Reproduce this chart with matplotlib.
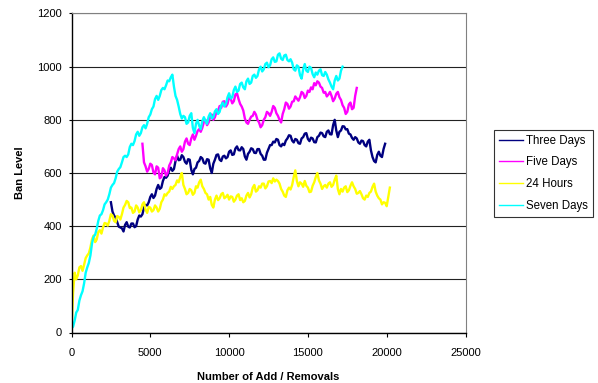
import numpy as np
import matplotlib
matplotlib.use("Agg")
import matplotlib.pyplot as plt

plt.rcParams['font.family'] = ['Liberation Sans', 'DejaVu Sans']

# ban level sampled every 100 add/removals
step = 100

three_days_start = 2500
three_days = [490, 455, 440, 432, 415, 398, 395, 392, 380, 405, 415, 398, 395, 410, 410, 396,
              400, 425, 440, 436, 445, 470, 480, 478, 490, 510, 520, 506, 515, 540, 555, 540,
              545, 570, 585, 582, 590, 610, 620, 608, 615, 645, 665, 648, 650, 667, 660, 642,
              635, 652, 650, 612, 595, 615, 620, 640, 645, 660, 655, 638, 635, 652, 650, 618,
              600, 635, 650, 668, 670, 650, 645, 662, 665, 655, 660, 680, 685, 668, 670, 692,
              700, 686, 685, 697, 690, 662, 650, 672, 680, 693, 690, 676, 675, 690, 690, 672,
              665, 650, 650, 676, 690, 705, 705, 718, 715, 728, 725, 705, 700, 710, 705, 722,
              730, 742, 740, 722, 715, 728, 725, 712, 710, 730, 735, 748, 750, 728, 720, 733,
              730, 716, 715, 735, 740, 752, 750, 738, 735, 755, 760, 746, 745, 780, 800, 760,
              735, 755, 760, 776, 775, 764, 765, 748, 745, 732, 725, 735, 730, 715, 710, 722,
              720, 705, 700, 718, 725, 685, 660, 645, 640, 668, 680, 665, 660, 690, 710]

five_days_start = 4500
five_days = [710, 640, 625, 605, 615, 635, 630, 602, 595, 625, 620, 580, 585, 618, 610, 590,
             600, 628, 640, 660, 655, 648, 670, 690, 700, 680, 690, 718, 730, 710, 705, 730,
             745, 725, 740, 758, 765, 755, 770, 792, 800, 780, 790, 812, 820, 800, 810, 830,
             835, 852, 845, 868, 870, 850, 860, 885, 880, 862, 870, 895, 900, 878, 860, 850,
             835, 805, 790, 785, 800, 812, 815, 830, 820, 800, 790, 772, 780, 800, 810, 830,
             825, 815, 830, 852, 845, 825, 815, 800, 790, 822, 840, 865, 860, 842, 850, 868,
             870, 888, 880, 872, 885, 905, 900, 882, 890, 910, 905, 922, 915, 938, 930, 945,
             940, 925, 920, 902, 905, 888, 895, 905, 890, 870, 880, 898, 905, 885, 875, 855,
             845, 822, 830, 858, 865, 840, 845, 890, 920]

hours_24_start = 0
hours_24 = [10, 150, 225, 200, 215, 245, 250, 232, 255, 280, 290, 298, 320, 350, 365, 340,
            350, 378, 385, 372, 395, 412, 410, 402, 420, 445, 440, 420, 415, 438, 435, 425,
            445, 470, 480, 495, 490, 468, 470, 450, 455, 478, 470, 452, 460, 482, 490, 462,
            450, 472, 470, 455, 460, 478, 470, 455, 465, 490, 500, 520, 515, 525, 530, 548,
            540, 550, 555, 572, 565, 585, 600, 555, 540, 520, 525, 540, 535, 518, 525, 550,
            545, 565, 575, 550, 540, 525, 520, 500, 510, 480, 470, 500, 515, 498, 505, 520,
            525, 505, 510, 518, 500, 512, 510, 492, 500, 515, 520, 498, 505, 490, 495, 515,
            525, 508, 520, 545, 555, 530, 535, 550, 545, 560, 560, 542, 550, 568, 570, 562,
            580, 568, 575, 570, 560, 540, 530, 515, 510, 535, 545, 538, 555, 585, 610, 570,
            550, 565, 560, 548, 570, 552, 545, 528, 530, 552, 565, 585, 600, 572, 560, 540,
            550, 555, 545, 560, 565, 548, 555, 575, 590, 540, 520, 540, 530, 545, 550, 528,
            535, 552, 565, 550, 540, 522, 525, 532, 520, 505, 500, 515, 510, 525, 530, 548,
            560, 530, 515, 505, 500, 482, 490, 488, 475, 510, 545]

seven_days_start = 0
seven_days = [15, 22, 45, 75, 85, 120, 140, 155, 185, 225, 245, 262, 290, 335, 360, 368,
              390, 420, 440, 445, 460, 482, 490, 500, 520, 545, 555, 562, 580, 605, 615, 622,
              640, 660, 665, 660, 670, 698, 710, 705, 720, 745, 755, 740, 750, 772, 780, 768,
              785, 810, 820, 840, 850, 878, 890, 875, 890, 912, 920, 915, 930, 948, 945, 960,
              970, 925, 890, 875, 850, 822, 805, 815, 810, 785, 790, 815, 825, 770, 750, 785,
              800, 778, 765, 795, 810, 795, 785, 812, 825, 805, 810, 832, 840, 822, 830, 855,
              865, 850, 860, 885, 900, 880, 885, 912, 925, 905, 910, 935, 940, 922, 915, 945,
              955, 935, 940, 965, 970, 958, 965, 990, 1000, 982, 990, 1010, 1015, 998, 1005, 1028,
              1035, 1018, 1020, 1045, 1050, 1030, 1025, 1042, 1045, 1025, 1020, 1028, 1015, 990, 985, 1005,
              1000, 968, 955, 990, 1010, 985, 980, 1000, 995, 972, 960, 978, 970, 985, 990, 968,
              965, 980, 970, 952, 940, 925, 915, 948, 965, 948, 955, 985, 1000]

series = [
    ("Three Days", three_days_start, three_days, "#000080"),
    ("Five Days", five_days_start, five_days, "#FF00FF"),
    ("24 Hours", hours_24_start, hours_24, "#FFFF00"),
    ("Seven Days", seven_days_start, seven_days, "#00FFFF"),
]

fig = plt.figure(figsize=(5.98, 3.83), dpi=100)
ax = fig.add_axes([71.5 / 598, 50.5 / 383, 394 / 598, 319 / 383])

for name, start, vals, color in series:
    x = start + step * np.arange(len(vals))
    ax.plot(x, vals, color=color, linewidth=1.7, label=name)

ax.set_xlim(0, 25000)
ax.set_ylim(0, 1200)
ax.set_xticks(np.arange(0, 25001, 5000))
ax.set_yticks(np.arange(0, 1201, 200))
ax.tick_params(labelsize=8, width=0.8, color='black')
ax.tick_params(axis='x', length=3, pad=8)
ax.tick_params(axis='y', length=2.5, pad=4.5)
ax.yaxis.grid(True, color='#222222', linewidth=0.8)
ax.set_axisbelow(True)

for side in ('left', 'bottom'):
    ax.spines[side].set_color('black')
    ax.spines[side].set_linewidth(1.0)
ax.spines['right'].set_color('#808080')
ax.spines['top'].set_color('#808080')

ax.set_xlabel('Number of Add / Removals', fontsize=8, fontweight='bold', labelpad=10)
ax.set_ylabel('Ban Level', fontsize=8, fontweight='bold', labelpad=9)

leg = fig.legend(loc='upper left', bbox_to_anchor=(494 / 598, 1 - 130 / 383),
                 fontsize=8.3, frameon=True, fancybox=False, borderpad=0.4,
                 handlelength=2.1, handletextpad=0.3, labelspacing=0.85,
                 borderaxespad=0)
leg.get_frame().set_edgecolor('black')
leg.get_frame().set_linewidth(0.8)
for line in leg.get_lines():
    line.set_linewidth(1.0)

fig.savefig('out.png', dpi=100)
